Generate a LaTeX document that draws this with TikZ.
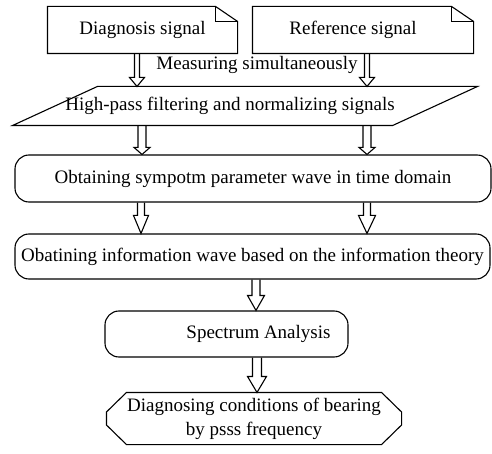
\documentclass[tikz,border=0pt]{standalone}
\usepackage{fontspec}
\setmainfont{Liberation Serif}
\newfontfamily\labelfont{Liberation Serif}
\usetikzlibrary{calc}
\begin{document}
\begin{tikzpicture}[x=1pt,y=-1pt,
  line width=1.1pt, line join=miter,
  every node/.style={font=\labelfont\fontsize{19}{24}\selectfont, inner sep=0pt, rectangle},
  roundbox/.style={draw, rounded corners=14pt},
  % hollow block arrow: shaft half-width, head half-width, head length
  bigarrow/.style n args={3}{to path={let \p1=(\tikztostart), \p2=(\tikztotarget) in
     (\x1-#1,\y1) -- (\x1-#1,\y2+#3) -- (\x1-#2,\y2+#3) -- (\x1,\y2)
     -- (\x1+#2,\y2+#3) -- (\x1+#1,\y2+#3) -- (\x1+#1,\y1)}}]
\useasboundingbox (0,0) rectangle (492,454);

% signal documents
\node[minimum width=189, minimum height=46] (diag) at (142.5,30) {Diagnosis signal};
\node[minimum width=220, minimum height=46] (ref) at (363,30) {Reference signal\hspace*{20pt}};
\foreach \n in {diag,ref}{
  \draw (\n.north west) -- ($(\n.north east)+(-22,0)$) -- ($(\n.north east)+(0,15)$)
        -- (\n.south east) -- (\n.south west) -- cycle;
  \draw ($(\n.north east)+(-22,0)$) -- ($(\n.north east)+(-22,15)$) -- ($(\n.north east)+(0,15)$);
}
\node (meas) at (257,65) {Measuring simultaneously};

% filtering step (parallelogram)
\node[minimum width=379, minimum height=38] (hp) at (245,106)
  {High-pass filtering and normalizing signals\hspace*{30pt}};
\draw ($(hp.south west)+(-42.5,0)$) -- ($(hp.south east)+(-42.5,0)$)
   -- ($(hp.north east)+(42.5,0)$) -- ($(hp.north west)+(42.5,0)$) -- cycle;

% process steps
\node[roundbox, minimum width=476, minimum height=47] (sym) at (253,178.5)
  {Obtaining sympotm parameter wave in time domain};
\node[roundbox, minimum width=475, minimum height=45] (info) at (252.5,256.5)
  {Obatining information wave based on the information theory};
\node[roundbox, minimum width=243, minimum height=46] (spec) at (226.5,334)
  {\hspace*{64pt}Spectrum Analysis};

% final step (chamfered box)
\node[minimum width=294, minimum height=51, align=center] (cond) at (254,418.5)
  {Diagnosing conditions of bearing\\by psss frequency};
\draw ($(cond.north west)+(20,0)$) -- ($(cond.north east)+(-20,0)$)
   -- ($(cond.east)+(0,-6.5)$) -- ($(cond.east)+(0,6.5)$)
   -- ($(cond.south east)+(-20,0)$) -- ($(cond.south west)+(20,0)$)
   -- ($(cond.west)+(0,6.5)$) -- ($(cond.west)+(0,-6.5)$) -- cycle;

% arrow columns
\coordinate (cL1) at (137,0);
\coordinate (cL2) at (142,0);
\coordinate (cL3) at (141,0);
\coordinate (cR) at (367,0);
\coordinate (cM1) at (256,0);
\coordinate (cM2) at (257,0);

\draw[bigarrow={2.5pt}{7.5pt}{9pt}] (cL1 |- diag.south) to (cL1 |- hp.north);
\draw[bigarrow={2.5pt}{7.5pt}{9pt}] (cR |- ref.south) to (cR |- hp.north);
\draw[bigarrow={4pt}{8pt}{7pt}] (cL2 |- hp.south) to (cL2 |- sym.north);
\draw[bigarrow={4pt}{8pt}{7pt}] (cR |- hp.south) to (cR |- sym.north);
\draw[bigarrow={3.5pt}{7.5pt}{18pt}] (cL3 |- sym.south) to (cL3 |- info.north);
\draw[bigarrow={3.5pt}{8.5pt}{18pt}] (cR |- sym.south) to (cR |- info.north);
\draw[bigarrow={4pt}{8.5pt}{15pt}] (cM1 |- info.south) to (cM1 |- spec.north);
\draw[bigarrow={4.5pt}{9.5pt}{16pt}] (cM2 |- spec.south) to (cM2 |- cond.north);
\end{tikzpicture}
\end{document}
